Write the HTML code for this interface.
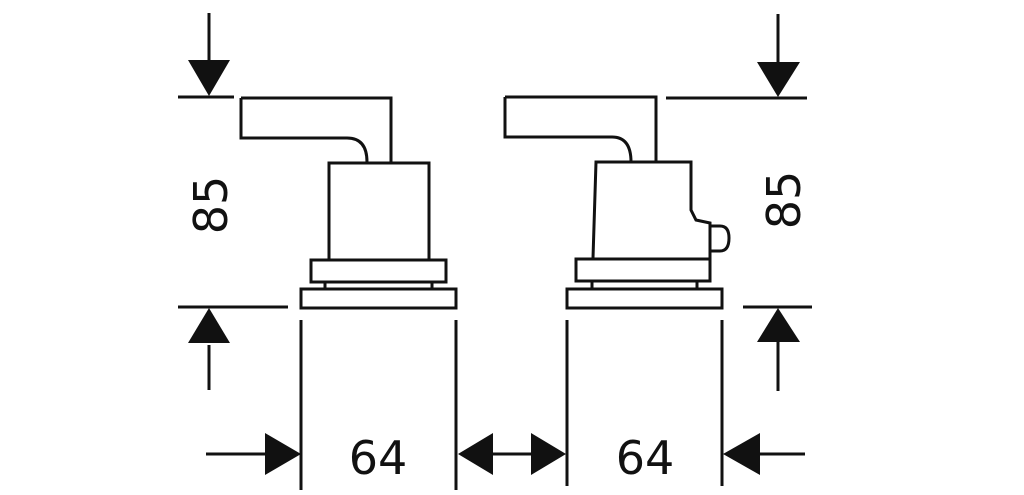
<!DOCTYPE html><html><head><style>body{margin:0;background:#fff}svg{display:block}text{font-family:"DejaVu Sans","Liberation Sans",sans-serif;font-size:46px;fill:#111}</style></head><body>
<svg width="1024" height="495" viewBox="0 0 1024 495" xmlns="http://www.w3.org/2000/svg">
<g stroke="#111" stroke-width="3" fill="none">
<!-- left handle -->
<path d="M241 98 H391 V162 M241 98 V138 H347 Q367 138 367 162"/>
<rect x="329" y="163" width="100" height="97"/>
<rect x="311" y="260" width="135" height="22"/>
<path d="M325 282 V289 M432 282 V289"/>
<rect x="301" y="289" width="155" height="19"/>
<!-- right handle -->
<path d="M505 97 H656 V162 M505 97 V137 H612 Q631 137 631 162"/>
<path d="M593 258 L596 162 H691 V210 L696 220 L710 223 V258"/>
<path d="M710 226 H720 Q729 226 729 238 Q729 251 720 251 H710"/>
<rect x="576" y="259" width="134" height="22"/>
<path d="M592 281 V289 M697 281 V289"/>
<rect x="567" y="289" width="155" height="19"/>
<!-- ref lines -->
<path d="M178 97 H234 M178 307 H288 M666 98 H807 M743 307 H812"/>
<path d="M209 13 V62 M209 345 V390 M778 14 V62 M778 342 V391"/>
<path d="M301 320 V490 M456 320 V490 M567 320 V486 M722 320 V486"/>
<path d="M206 454 H266 M490 454 H533 M758 454 H805"/>
</g>
<g fill="#111">
<polygon points="188,60 230,60 209,96"/>
<polygon points="188,343 230,343 209,308"/>
<polygon points="757,62 800,62 778,97"/>
<polygon points="757,342 800,342 778,308"/>
<polygon points="265,433 265,475 301,454"/>
<polygon points="493,433 493,475 458,454"/>
<polygon points="531,433 531,475 566,454"/>
<polygon points="760,433 760,475 723,454"/>
</g>
<text x="378" y="474" text-anchor="middle">64</text>
<text x="645" y="474" text-anchor="middle">64</text>
<text transform="translate(227,205) rotate(-90)" text-anchor="middle">85</text>
<text transform="translate(800,200) rotate(-90)" text-anchor="middle">85</text>
</svg></body></html>
